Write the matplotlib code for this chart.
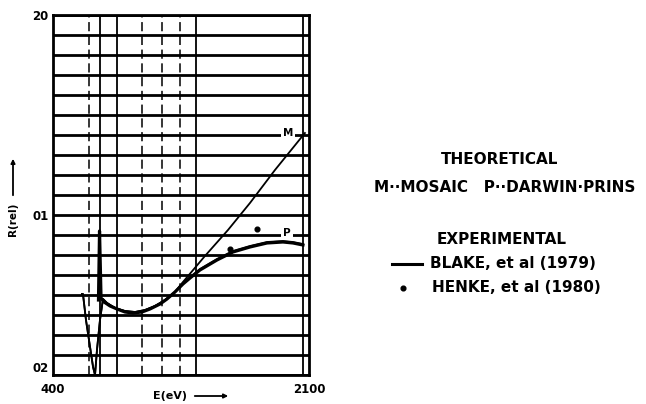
import numpy as np
import matplotlib
matplotlib.use('Agg')
import matplotlib.pyplot as plt

# energy grid positions (eV) of the vertical rulings
vlines_solid = [712, 825, 1350, 2060]
vlines_dashed = [639, 991, 1124, 1243]

# reflectivity curves, R in chart divisions (0 = bottom ruling, 18 = top)
blake_e = [702, 709, 719, 739, 779, 825, 878, 931, 991, 1044, 1111, 1157,
           1210, 1263, 1310, 1376, 1489, 1595, 1708, 1821, 1927, 1994, 2060]
blake_r = [3.75, 7.2, 3.85, 3.65, 3.45, 3.30, 3.15, 3.10, 3.15, 3.30, 3.55, 3.80,
           4.15, 4.55, 4.85, 5.25, 5.75, 6.15, 6.40, 6.60, 6.65, 6.60, 6.50]

mosaic_e = [592, 599, 619, 646, 666, 679, 692, 712, 732, 759, 812, 878, 945,
            1011, 1077, 1144, 1210, 1263, 1409, 1562, 1708, 1874, 2073]
mosaic_r = [4.05, 4.05, 2.75, 1.40, 0.40, 0.0, 1.25, 2.75, 3.80, 3.60, 3.35, 3.20,
            3.15, 3.25, 3.45, 3.75, 4.15, 4.65, 5.95, 7.25, 8.60, 10.25, 12.10]

prins_e = [592, 599, 619, 646, 666, 679, 692, 712, 732, 759, 812, 878, 945,
           1011, 1077, 1144, 1210, 1263, 1376, 1489, 1595, 1708, 1821, 1927, 1994, 2060]
prins_r = [4.05, 4.05, 2.75, 1.40, 0.40, 0.0, 1.25, 2.75, 3.80, 3.60, 3.35, 3.20,
           3.15, 3.25, 3.45, 3.75, 4.15, 4.60, 5.30, 5.80, 6.20, 6.45, 6.65, 6.70, 6.65, 6.55]

henke_e = [1575, 1755]
henke_r = [6.30, 7.30]

ytick_pos = [0, 8, 18]
ytick_lab = ["02", "01", "20"]
xtick_pos = [400, 2100]
xtick_lab = ["400", "2100"]

fig = plt.figure(figsize=(6.46, 4.04), dpi=100)
W, H = 646.0, 404.0
ax = fig.add_axes([53 / W, 1 - 375 / H, (309 - 53) / W, (375 - 15) / H])
ax.set_xlim(400, 2100)
ax.set_ylim(0, 18)

# horizontal rulings
for k in range(19):
    ax.axhline(k, color='black', lw=2.0, zorder=1)
for e in vlines_solid:
    ax.axvline(e, color='black', lw=1.3, zorder=1)
for e in vlines_dashed:
    ax.axvline(e, color='black', lw=1.1, ls=(0, (6, 3)), zorder=1)

ax.plot(mosaic_e, mosaic_r, color='black', lw=1.3, zorder=3)
ax.plot(prins_e, prins_r, color='black', lw=1.3, zorder=3)
ax.plot(blake_e, blake_r, color='black', lw=2.3, zorder=4)
ax.plot(henke_e, henke_r, 'o', color='black', ms=3.4, zorder=5)

lab = dict(fontsize=7.5, fontweight='bold', ha='center', va='center', zorder=6,
           bbox=dict(facecolor='white', edgecolor='none', pad=1.5))
ax.text(1960, 12.1, "M", **lab)
ax.text(1954, 7.1, "P", **lab)

for s in ax.spines.values():
    s.set_linewidth(2.0)
ax.set_yticks(ytick_pos)
ax.set_yticklabels(ytick_lab, fontsize=8.5, fontweight='bold')
ax.get_yticklabels()[0].set_va('bottom')
ax.set_xticks(xtick_pos)
ax.set_xticklabels(xtick_lab, fontsize=8.5, fontweight='bold')
ax.tick_params(axis='y', length=0, pad=3)
ax.tick_params(axis='x', length=0, pad=6)

# axis captions with arrows
fig.text(170 / W, 1 - 396 / H, "E(eV)", fontsize=8, fontweight='bold', ha='center', va='center')
fig.add_artist(matplotlib.patches.FancyArrowPatch((192 / W, 1 - 396 / H), (231 / W, 1 - 396 / H),
               transform=fig.transFigure, arrowstyle='-|>', mutation_scale=6, lw=1.3, color='black'))
fig.text(13 / W, 1 - 219 / H, "R(rel)", fontsize=7.5, fontweight='bold', rotation=90,
         ha='center', va='center')
fig.add_artist(matplotlib.patches.FancyArrowPatch((13 / W, 1 - 198 / H), (13 / W, 1 - 156 / H),
               transform=fig.transFigure, arrowstyle='-|>', mutation_scale=6, lw=1.3, color='black'))

# key
tk = dict(fontsize=11, fontweight='bold', va='center')
fig.text(500 / W, 1 - 160 / H, "THEORETICAL", ha='center', **tk)
fig.text(505 / W, 1 - 187 / H, "M\u00b7\u00b7MOSAIC   P\u00b7\u00b7DARWIN\u00b7PRINS", ha='center', **tk)
fig.text(502 / W, 1 - 240 / H, "EXPERIMENTAL", ha='center', **tk)
fig.add_artist(matplotlib.lines.Line2D([392 / W, 422 / W], [1 - 264 / H, 1 - 264 / H],
               transform=fig.transFigure, color='black', lw=2.2))
fig.text(430 / W, 1 - 264 / H, "BLAKE, et al (1979)", ha='left', **tk)
fig.add_artist(matplotlib.lines.Line2D([403 / W], [1 - 288 / H], transform=fig.transFigure,
               marker='o', ms=3.4, color='black'))
fig.text(432 / W, 1 - 288 / H, "HENKE, et al (1980)", ha='left', **tk)

fig.savefig("out.png", dpi=100)
